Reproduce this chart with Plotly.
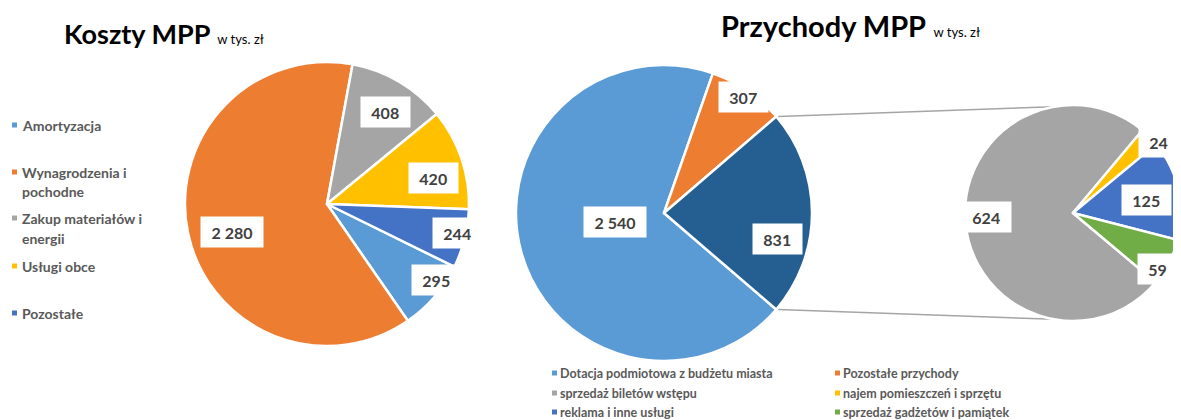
import math
import plotly.graph_objects as go

# ---------------- data ----------------
cost_labels = ["Amortyzacja", "Wynagrodzenia i pochodne", "Zakup materiałów i energii",
               "Usługi obce", "Pozostałe"]
cost_values = [295, 2280, 408, 420, 244]
cost_colors = ["#5B9BD5", "#ED7D31", "#A5A5A5", "#FFC000", "#4472C4"]

rev_labels = ["Dotacja podmiotowa z budżetu miasta", "Pozostałe przychody", "Pozostałe źródła"]
rev_values = [2540, 307, 831]
rev_colors = ["#5B9BD5", "#ED7D31", "#255E91"]

sub_labels = ["sprzedaż biletów wstępu", "najem pomieszczeń i sprzętu",
              "reklama i inne usługi", "sprzedaż gadżetów i pamiątek"]
sub_values = [624, 24, 125, 59]
sub_colors = ["#A5A5A5", "#FFC000", "#4472C4", "#70AD47"]

legend_left_lines = [["Amortyzacja"], ["Wynagrodzenia i", "pochodne"],
                     ["Zakup materiałów i", "energii"], ["Usługi obce"], ["Pozostałe"]]
legend_bottom = ["Dotacja podmiotowa z budżetu miasta", "Pozostałe przychody",
                 "sprzedaż biletów wstępu", "najem pomieszczeń i sprzętu",
                 "reklama i inne usługi", "sprzedaż gadżetów i pamiątek"]
legend_bottom_colors = ["#5B9BD5", "#ED7D31", "#A5A5A5", "#FFC000", "#4472C4", "#70AD47"]

# ---------------- layout constants ----------------
PAGE_OFF = 8                 # default body margin of the html page
W, H = 1181 - PAGE_OFF, 420 - PAGE_OFF
FONT = "Lato, 'Open Sans', sans-serif"
TXT = "#404040"
LEG = "#595959"


def px(x):
    return (x - PAGE_OFF) / W


def py(y):
    return 1 - (y - PAGE_OFF) / H


# pies: centre (screen px), radius (px), rotation
PIES = {
    "cost": dict(cx=327, cy=204, r=142, rot=116.2),
    "rev": dict(cx=664, cy=213, r=148, rot=None),
    "sub": dict(cx=1073, cy=213, r=108, rot=130),
}
# Excel centres the "other" slice at 3 o'clock
rev_other_span = rev_values[-1] / sum(rev_values) * 360
PIES["rev"]["rot"] = 90 + rev_other_span / 2

# label placement: (radius fraction, angle adjustment in degrees)
LBL = {
    "cost": [(0.94, -6), (0.70, -4.5), (0.77, 2), (0.77, 5), (0.94, -1.4)],
    "rev": [(0.34, 4.6), (0.95, 0), (0.79, 12.9)],
    "sub": [(0.80, 2.4), (1.03, 5), (0.69, 2.7), (0.94, 6)],
}

fig = go.Figure()
annotations = []
shapes = []


def fmt(v):
    return f"{v:,}".replace(",", " ")


def add_pie(key, labels, values, colors):
    g = PIES[key]
    cx, cy, r = g["cx"], g["cy"], g["r"]
    x0, x1 = px(cx - r), min(1.0, px(cx + r))
    fig.add_trace(go.Pie(
        labels=labels, values=values, sort=False, direction="clockwise",
        rotation=g["rot"], textinfo="none", hoverinfo="label+value",
        marker=dict(colors=colors, line=dict(color="white", width=2.5)),
        domain=dict(x=[x0, x1], y=[py(cy + r), py(cy - r)]),
        showlegend=False,
    ))
    total = sum(values)
    ang = g["rot"]
    for v, (f, d) in zip(values, LBL[key]):
        span = v / total * 360
        mid = math.radians(ang + span / 2 + d)
        ang += span
        lx = cx + f * r * math.sin(mid)
        ly = cy - f * r * math.cos(mid)
        t = fmt(v)
        ndig = sum(c.isdigit() for c in t)
        nsp = t.count(" ")
        annotations.append(dict(
            x=px(lx), y=py(ly), xref="paper", yref="paper", showarrow=False,
            text=f"<b>{t}</b>", font=dict(family=FONT, size=16, color=TXT),
            bgcolor="white", borderpad=5, width=9.5 * ndig + 4 * nsp + 10, height=20,
            xanchor="center", yanchor="middle",
        ))


add_pie("cost", cost_labels, cost_values, cost_colors)
add_pie("rev", rev_labels, rev_values, rev_colors)
add_pie("sub", sub_labels, sub_values, sub_colors)

# connector lines between the "other" slice and the secondary pie
gr, gs = PIES["rev"], PIES["sub"]
a_top = math.radians(gr["rot"] - rev_other_span)
a_bot = math.radians(gr["rot"])
for a_main, a_sub in [(a_top, math.radians(350)), (a_bot, math.radians(190))]:
    shapes.append(dict(
        type="line", xref="paper", yref="paper",
        x0=px(gr["cx"] + gr["r"] * math.sin(a_main) + 2),
        y0=py(gr["cy"] - gr["r"] * math.cos(a_main)),
        x1=px(gs["cx"] + gs["r"] * math.sin(a_sub)),
        y1=py(gs["cy"] - gs["r"] * math.cos(a_sub)),
        line=dict(color="#A5A5A5", width=1.5), layer="below",
    ))

# titles
annotations.append(dict(
    x=px(62), y=py(34), xref="paper", yref="paper", showarrow=False,
    xanchor="left", yanchor="middle",
    text="<b>Koszty MPP</b> <span style='font-size:13px'>w tys. zł</span>",
    font=dict(family=FONT, size=27, color="black"),
))
annotations.append(dict(
    x=px(719), y=py(26), xref="paper", yref="paper", showarrow=False,
    xanchor="left", yanchor="middle",
    text="<b>Przychody MPP</b> <span style='font-size:13px'>w tys. zł</span>",
    font=dict(family=FONT, size=29, color="black"),
))

# left legend
left_y = [[125], [172, 191], [218, 238], [266], [313]]
for lines, ys, col in zip(legend_left_lines, left_y, cost_colors):
    shapes.append(dict(type="rect", xref="paper", yref="paper",
                       x0=px(12), x1=px(17), y0=py(ys[0] + 2.5), y1=py(ys[0] - 2.5),
                       fillcolor=col, line=dict(width=0)))
    for line, yy in zip(lines, ys):
        annotations.append(dict(
            x=px(20), y=py(yy), xref="paper", yref="paper", showarrow=False,
            xanchor="left", yanchor="middle", text=f"<b>{line}</b>",
            font=dict(family=FONT, size=14, color=LEG),
        ))

# bottom legend (2 columns, row-major)
col_x = [552, 835]
row_y = [373, 393, 412]
for i, (lab, col) in enumerate(zip(legend_bottom, legend_bottom_colors)):
    xx = col_x[i % 2]
    yy = row_y[i // 2]
    shapes.append(dict(type="rect", xref="paper", yref="paper",
                       x0=px(xx), x1=px(xx + 5), y0=py(yy + 2.5), y1=py(yy - 2.5),
                       fillcolor=col, line=dict(width=0)))
    annotations.append(dict(
        x=px(xx + 6), y=py(yy), xref="paper", yref="paper", showarrow=False,
        xanchor="left", yanchor="middle", text=f"<b>{lab}</b>",
        font=dict(family=FONT, size=12.5, color=LEG),
    ))

fig.update_layout(
    width=W, height=H, margin=dict(l=0, r=0, t=0, b=0),
    paper_bgcolor="white", plot_bgcolor="white",
    annotations=annotations, shapes=shapes, showlegend=False,
    font=dict(family=FONT),
)
fig.write_html("out.html")
